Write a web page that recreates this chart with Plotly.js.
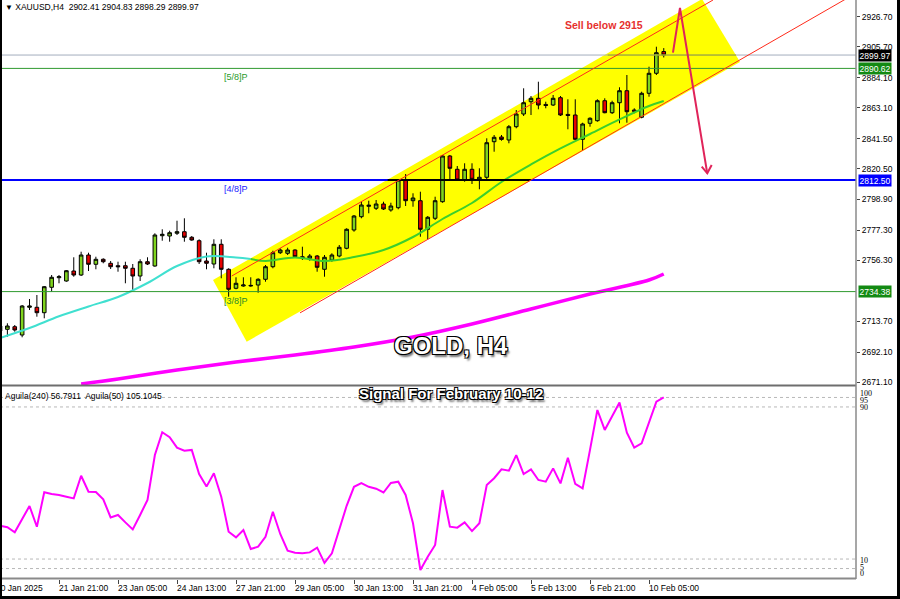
<!DOCTYPE html>
<html><head><meta charset="utf-8">
<script src="https://cdn.plot.ly/plotly-3.0.1.min.js"></script>
<style>html,body{margin:0;padding:0;background:#fff;overflow:hidden}#chart{width:900px;height:599px}</style>
</head><body><div id="chart"></div>
<script>
// ---------- data ----------
const open = [2706.8,2708.0,2709.8,2704.0,2723.4,2723.4,2719.6,2737.4,2744.1,2741.8,
2748.8,2746.0,2760.0,2753.5,2757.0,2754.2,2752.5,2752.5,2750.7,2745.3,
2755.3,2752.3,2773.5,2773.3,2775.2,2776.3,2772.4,2770.0,2755.8,2753.7,
2767.5,2750.0,2736.7,2738.3,2738.3,2739.0,2743.0,2751.8,2761.6,2761.2,
2763.5,2758.8,2757.7,2759.3,2750.0,2756.5,2759.3,2764.7,2777.5,2786.8,
2794.1,2792.7,2795.7,2791.5,2793.1,2812.5,2798.0,2798.0,2778.0,2785.7,
2797.3,2829.3,2820.0,2812.5,2820.0,2812.5,2814.4,2839.3,2842.6,2840.5,
2849.8,2858.7,2867.3,2869.7,2865.4,2865.0,2870.1,2858.4,2858.0,2841.0,
2852.2,2854.0,2868.0,2859.6,2866.6,2875.0,2861.5,2856.4,2873.2,2887.2,2902.41];
const high = [2712.4,2712.2,2711.0,2725.0,2729.2,2732.0,2738.3,2746.0,2746.0,2749.5,
2758.4,2762.3,2761.6,2758.8,2757.7,2755.8,2755.3,2755.3,2753.7,2757.0,
2758.4,2775.2,2778.0,2777.0,2784.0,2785.7,2773.3,2771.0,2761.6,2771.0,
2771.0,2750.7,2744.4,2744.4,2744.4,2743.7,2753.0,2763.0,2764.7,2765.1,
2764.0,2765.8,2760.7,2760.0,2760.0,2761.2,2767.0,2778.7,2788.0,2797.3,
2798.0,2798.5,2797.3,2796.6,2813.0,2816.7,2803.2,2804.3,2787.3,2800.8,
2830.0,2830.0,2822.3,2824.2,2824.2,2820.7,2841.7,2844.0,2844.0,2851.0,
2861.5,2876.7,2871.3,2881.3,2867.3,2872.0,2871.3,2869.0,2869.0,2852.6,
2856.4,2869.0,2869.7,2868.0,2877.4,2886.0,2862.7,2874.3,2891.8,2905.8,2904.83];
const low = [2703.3,2702.8,2706.3,2702.4,2721.5,2716.8,2715.7,2734.3,2740.2,2741.3,
2744.8,2745.3,2748.8,2750.0,2754.2,2750.2,2748.3,2740.2,2735.5,2741.8,
2753.0,2751.8,2770.0,2769.3,2774.0,2769.3,2770.0,2753.7,2750.0,2750.7,
2743.7,2730.8,2736.0,2737.8,2737.8,2733.6,2741.3,2750.7,2760.7,2760.0,
2758.4,2756.5,2756.0,2748.3,2744.8,2755.3,2758.4,2764.0,2776.3,2785.7,
2789.2,2791.5,2791.5,2790.3,2792.0,2794.3,2793.8,2772.8,2771.0,2784.5,
2796.6,2813.0,2812.0,2811.3,2809.7,2806.0,2812.5,2832.3,2840.0,2838.2,
2848.7,2857.3,2858.0,2862.0,2862.7,2864.3,2857.3,2848.0,2840.5,2833.5,
2849.8,2853.3,2859.2,2858.7,2852.2,2852.6,2859.2,2855.7,2870.8,2886.0,2898.29];
const close = [2710.3,2710.3,2707.5,2724.3,2724.3,2719.6,2737.8,2744.4,2744.8,2749.0,
2746.0,2760.0,2753.5,2757.0,2755.3,2751.8,2751.8,2750.7,2745.3,2755.3,
2753.7,2774.0,2774.5,2775.6,2776.3,2772.4,2770.5,2755.3,2754.2,2767.5,
2750.0,2736.0,2740.2,2739.0,2738.7,2743.0,2751.8,2761.6,2763.5,2763.5,
2758.8,2757.9,2759.3,2751.4,2758.4,2760.0,2765.4,2778.0,2787.3,2795.0,
2794.8,2795.7,2792.2,2794.3,2812.5,2798.0,2799.9,2778.0,2786.4,2798.0,
2829.3,2820.7,2812.5,2820.0,2813.0,2814.4,2838.6,2842.4,2840.9,2849.8,
2858.7,2866.6,2869.7,2865.0,2864.7,2869.7,2858.0,2857.7,2841.0,2851.7,
2855.7,2868.0,2859.6,2866.6,2875.0,2860.3,2860.6,2873.2,2887.2,2901.6,2899.97];

// fast MA: outside the yellow band (cyan) and inside it (seen as green)
const maFastOutBars = [0,4,8,12,16,20,24,28,32,34];
const maFastOutVals = [2701.9,2708.9,2717.1,2724.0,2730.6,2740.4,2752.3,2759.0,2758.3,2757.2];
const maFastInBars = [34,36,40,44,48,52,56,60,64,68,72,76,80,84,88,90];
const maFastInVals = [2757.2,2755.8,2758.3,2755.8,2758.6,2763.5,2772.6,2785.2,2796.4,2811.1,2823.4,2834.6,2844.7,2854.9,2864.3,2867.8];
const maSlowBars = [11,16,24,32,40,48,56,64,72,80,88,90];
const maSlowVals = [2669.7,2673.2,2679.5,2685.1,2690.0,2695.6,2702.6,2711.7,2722.2,2732.7,2742.5,2746.7];

const aguila = [27.5,26.7,24.1,31.4,37.9,27.0,45.1,44.2,43.7,42.8,
41.9,53.8,45.4,45.3,41.4,31.9,33.2,29.3,25.6,33.2,
41.1,64.7,76.7,74.1,68.6,67.0,67.4,54.7,48.1,55.1,
42.8,24.4,21.4,25.3,15.3,16.5,21.7,34.9,23.2,14.4,
13.3,13.0,13.5,16.0,8.0,13.0,25.0,38.0,48.0,50.0,
48.0,47.0,45.0,50.0,50.7,43.7,28.8,4.2,11.2,17.4,
46.3,27.0,26.5,29.3,24.7,28.8,48.9,52.5,57.2,56.5,
64.7,54.7,57.2,51.6,50.7,57.7,49.8,63.3,49.5,47.2,
67.4,88.4,77.9,84.9,92.3,76.5,68.6,70.9,81.7,92.8,95.1];

const tickBars = [0,8,16,24,32,40,48,56,64,72,80,88];
const tickLabels = ['20 Jan 2025','21 Jan 21:00','23 Jan 05:00','24 Jan 13:00','27 Jan 21:00','29 Jan 05:00','30 Jan 13:00','31 Jan 21:00','4 Feb 05:00','5 Feb 13:00','6 Feb 21:00','10 Feb 05:00'];
const priceTicks = [2926.70,2905.70,2884.10,2863.10,2841.50,2820.50,2798.90,2777.30,2756.30,2713.70,2692.10,2671.10];
const levelVals = [2899.97, 2890.62, 2812.50, 2734.38];
const indLevels = [95, 90, 10, 5];
const indLabels = ['100','95','90','10','5','0'];
const header = 'XAUUSD,H4&nbsp; 2902.41 2904.83 2898.29 2899.97';
const indHeader = 'Aguila(240) 56.7911&nbsp; Aguila(50) 105.1045';

// channel / arrow anchor points (bar index, price)
const chanPoly = [[28.88,2742.5],[33.45,2699.3],[100.34,2895.1],[95.19,2939.2]];
const chanUpper = [[31.42,2745.3],[96.68,2938.5]];
const chanLower = [[40.68,2719.5],[114.58,2938.9]];
const arrowPath = [[91.25,2901.6],[92.2,2932.9],[95.9,2817.2]];
const arrowHead = [[95.15,2821.8],[95.9,2817.2],[96.5,2823.0]];
// where the band covers the 2812.50 and 2899.97 lines (bar index)
const bandOnBlue = [52.56, 72.0];
const bandOnGrey = [82.4, 99.8];

// ---------- figure ----------
const bars = open.map((_, i) => i);
const W = 856, H = 579;              // plot area in px
const px = v => v / W;               // pixel x -> paper
const py = v => 1 - v / H;           // pixel y -> paper
const FONT = 'Liberation Sans, Arial, sans-serif';

const traces = [
  {type:'scatter', mode:'lines', x:maSlowBars, y:maSlowVals, line:{color:'#ff00ff', width:3.5, shape:'spline'}, xaxis:'x', yaxis:'y', hoverinfo:'skip'},
  {type:'scatter', mode:'lines', x:maFastOutBars, y:maFastOutVals, line:{color:'#40e0d0', width:2, shape:'spline'}, xaxis:'x', yaxis:'y', hoverinfo:'skip'},
  {type:'scatter', mode:'lines', x:maFastInBars, y:maFastInVals, line:{color:'#3ccf2c', width:2, shape:'spline'}, xaxis:'x', yaxis:'y', hoverinfo:'skip'},
  {type:'candlestick', x:bars, open, high, low, close, xaxis:'x', yaxis:'y', whiskerwidth:0,
   increasing:{line:{color:'#000', width:1}, fillcolor:'#7fd41e'},
   decreasing:{line:{color:'#000', width:1}, fillcolor:'#e80000'}, hoverinfo:'skip'},
  {type:'scatter', mode:'lines', x:bars, y:aguila, line:{color:'#ff00ff', width:2}, xaxis:'x', yaxis:'y2', hoverinfo:'skip'}
];

const shapes = [];
const pth = pts => pts.map((p, k) => (k ? 'L' : 'M') + p[0] + ',' + p[1]).join(' ');
// yellow channel band (under the candles)
shapes.push({type:'path', xref:'x', yref:'y', path:pth(chanPoly) + ' Z', fillcolor:'#ffff00', line:{width:0}, layer:'below'});
// horizontal levels
const levelColors = ['#a3adbd', '#2f9a2f', '#0000ff', '#2f9a2f'];
const levelWidths = [1, 1, 2, 1];
levelVals.forEach((v, k) => shapes.push({type:'line', xref:'paper', x0:0, x1:1, yref:'y', y0:v, y1:v, line:{color:levelColors[k], width:levelWidths[k]}, layer:'above'}));
shapes.push({type:'line', xref:'x', x0:bandOnBlue[0], x1:bandOnBlue[1], yref:'y', y0:levelVals[2], y1:levelVals[2], line:{color:'#000000', width:2}, layer:'above'});
shapes.push({type:'line', xref:'x', x0:bandOnGrey[0], x1:bandOnGrey[1], yref:'y', y0:levelVals[0], y1:levelVals[0], line:{color:'#a3ad00', width:1}, layer:'above'});
// indicator levels
indLevels.forEach(v => shapes.push({type:'line', xref:'paper', x0:0, x1:1, yref:'y2', y0:v, y1:v, line:{color:'#b8b8b8', width:1, dash:'dot'}, layer:'below'}));
// channel lines
shapes.push({type:'line', xref:'x', yref:'y', x0:chanUpper[0][0], y0:chanUpper[0][1], x1:chanUpper[1][0], y1:chanUpper[1][1], line:{color:'#ff2a1a', width:1}, layer:'above'});
shapes.push({type:'line', xref:'x', yref:'y', x0:chanLower[0][0], y0:chanLower[0][1], x1:chanLower[1][0], y1:chanLower[1][1], line:{color:'#ff2a1a', width:1}, layer:'above'});
// arrow
shapes.push({type:'path', xref:'x', yref:'y', path:pth(arrowPath), line:{color:'#e0245a', width:2}, layer:'above'});
shapes.push({type:'path', xref:'x', yref:'y', path:pth(arrowHead), line:{color:'#e0245a', width:2}, layer:'above'});
// panel borders
shapes.push({type:'line', xref:'paper', yref:'paper', x0:0, x1:1, y0:py(385.5), y1:py(385.5), line:{color:'#6e6e6e', width:2}});
shapes.push({type:'line', xref:'paper', yref:'paper', x0:0, x1:1, y0:py(578.5), y1:py(578.5), line:{color:'#8a8a8a', width:2}});
shapes.push({type:'line', xref:'paper', yref:'paper', x0:1, x1:1, y0:0, y1:1, line:{color:'#8a8a8a', width:1.5}});
// outer black frame (left, right, bottom)
shapes.push({type:'rect', xref:'paper', yref:'paper', x0:px(0), x1:px(2), y0:py(599), y1:py(0), fillcolor:'#000', line:{width:0}});
shapes.push({type:'rect', xref:'paper', yref:'paper', x0:px(897), x1:px(900), y0:py(599), y1:py(0), fillcolor:'#000', line:{width:0}});
shapes.push({type:'rect', xref:'paper', yref:'paper', x0:px(0), x1:px(900), y0:py(599), y1:py(596), fillcolor:'#000', line:{width:0}});

const ann = [];
const base = {showarrow:false, font:{family:FONT, size:8.5, color:'#000'}};
ann.push({...base, xref:'paper', yref:'paper', x:px(3), y:py(7), xanchor:'left', yanchor:'middle', text:'<span style="font-size:8px">▼</span> ' + header});
ann.push({...base, xref:'paper', yref:'paper', x:px(3), y:py(396), xanchor:'left', yanchor:'middle', text:indHeader});
// x labels (left-aligned at their tick, as in the terminal)
tickBars.forEach((b, k) => ann.push({...base, xref:'x', yref:'paper', x:b, xshift:(k === 0 ? -6 : -2.5), y:py(587.5), xanchor:'left', yanchor:'middle', text:tickLabels[k]}));
// price label boxes
const boxBg = ['#000000', '#138a13', '#0000ff', '#138a13'];
levelVals.forEach((v, k) => ann.push({...base, xref:'paper', yref:'y', x:1, xshift:2, y:v, xanchor:'left', yanchor:'middle', text:v.toFixed(2), bgcolor:boxBg[k], borderpad:0.5, font:{family:FONT, size:8.5, color:'#fff'}}));
// level names
const lvlNames = [['[5/8]P', 2890.62, '#2a9a2a'], ['[4/8]P', 2812.50, '#2020ff'], ['[3/8]P', 2734.38, '#2a8a2a']];
lvlNames.forEach(l => ann.push({...base, xref:'x', yref:'y', x:30.1, y:l[1], yshift:-2, xanchor:'left', yanchor:'top', text:l[0], font:{family:FONT, size:9, color:l[2]}}));
// indicator scale labels
const indLabelY = [393.5, 400, 407.5, 560, 567, 573.5];
indLabels.forEach((t, k) => ann.push({showarrow:false, xref:'paper', yref:'paper', x:px(858.5), y:py(indLabelY[k]), xanchor:'left', yanchor:'middle', text:t, font:{family:'Liberation Serif, DejaVu Serif, serif', size:8, color:'#000'}}));
// sell text
ann.push({showarrow:false, xref:'paper', yref:'paper', x:px(604), y:py(25), xanchor:'center', yanchor:'middle', text:'<b>Sell below 2915</b>', font:{family:FONT, size:10.5, color:'#e6302e'}});
// title texts
const outline = '-1px -1px 0 #000, 1px -1px 0 #000, -1px 1px 0 #000, 1px 1px 0 #000, 2px 3px 2px rgba(0,0,0,0.55)';
ann.push({showarrow:false, xref:'paper', yref:'paper', x:px(451), y:py(345), xanchor:'center', yanchor:'middle', text:'<b>GOLD, H4</b>', font:{family:FONT, size:24, color:'#ffffff', shadow:outline}});
ann.push({showarrow:false, xref:'paper', yref:'paper', x:px(451), y:py(393), xanchor:'center', yanchor:'middle', text:'<b>Signal For February 10-12</b>', font:{family:FONT, size:15, color:'#ffffff', shadow:outline}});

const layout = {
  width:900, height:599,
  margin:{l:0, r:44, t:0, b:20, pad:0},
  paper_bgcolor:'#ffffff', plot_bgcolor:'#ffffff',
  showlegend:false, hovermode:false,
  font:{family:FONT, size:8.5, color:'#000'},
  xaxis:{range:[0, 856/7.375], anchor:'y2', showgrid:false, zeroline:false, showline:false,
         tickvals:tickBars, showticklabels:false, ticks:'outside', ticklen:4, tickcolor:'#444', tickwidth:1,
         rangeslider:{visible:false}, fixedrange:true},
  yaxis:{domain:[1 - 385/H, 1], range:[2669.0, 2938.5], side:'right', showgrid:false, zeroline:false, showline:false,
         tickvals:priceTicks, ticktext:priceTicks.map(v => v.toFixed(2)), ticks:'outside', ticklen:3, tickcolor:'#444',
         tickfont:{family:FONT, size:8.5, color:'#000'}, fixedrange:true},
  yaxis2:{domain:[0, (H - 387) / H], range:[-0.5, 100.5], side:'right', showgrid:false, zeroline:false,
          showline:false, showticklabels:false, ticks:'', fixedrange:true},
  shapes, annotations:ann
};

Plotly.newPlot('chart', traces, layout, {staticPlot:true, displayModeBar:false});
</script>
</body></html>
